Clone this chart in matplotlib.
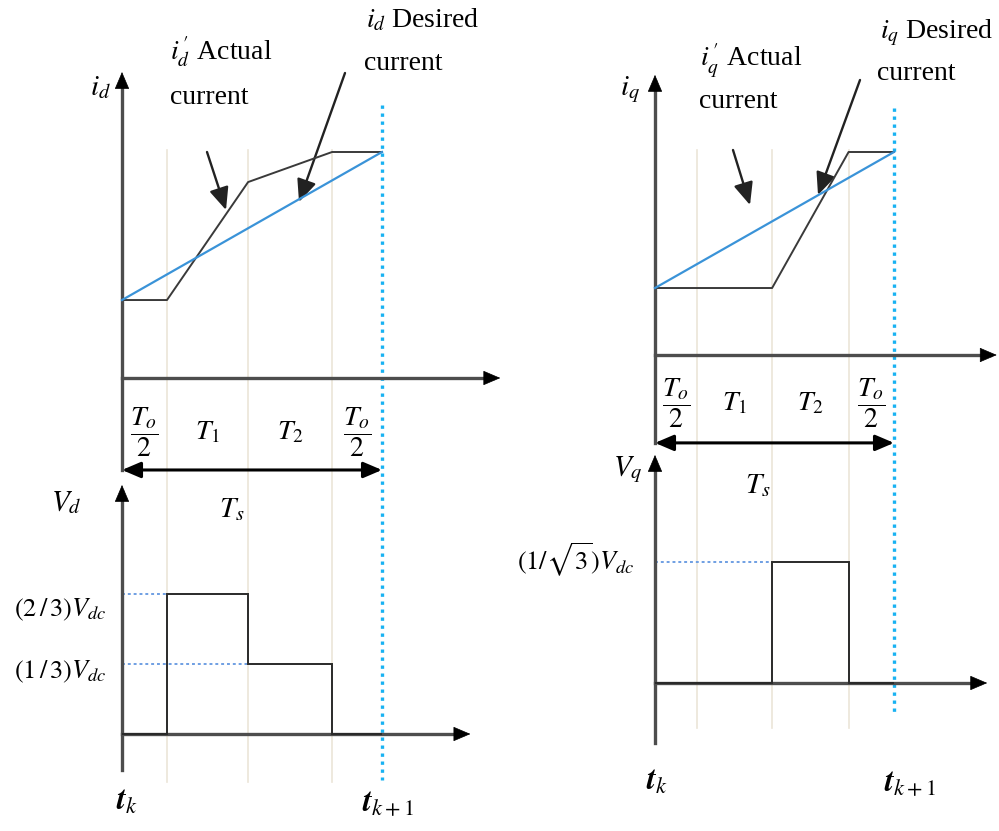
import numpy as np
import matplotlib
matplotlib.use("Agg")
import matplotlib.pyplot as plt
from matplotlib import transforms

plt.rcParams["font.family"] = ["Liberation Serif", "DejaVu Serif"]
plt.rcParams["mathtext.fontset"] = "stix"

W, H = 999, 831

# switching period split into T0/2, T1, T2, T0/2 (fraction of Ts)
d_edges = [0.0, 0.173, 0.485, 0.808, 1.0]
q_edges = [0.0, 0.176, 0.49, 0.81, 1.0]

# d-axis: actual and desired current (normalised to end value)
id_actual = [0.345, 0.345, 0.867, 1.0, 1.0]
id_desired = [0.345, 1.0]
# d-axis voltage levels per interval (in Vdc)
vd_levels = [0.0, 2 / 3, 1 / 3, 0.0]

# q-axis
iq_actual = [0.33, 0.33, 0.33, 1.0, 1.0]
iq_desired = [0.33, 1.0]
vq_levels = [0.0, 0.0, 1 / np.sqrt(3), 0.0]

seg_labels = [r"$\dfrac{T_o}{2}$", r"$T_1$", r"$T_2$", r"$\dfrac{T_o}{2}$"]

AXIS = "#4d4d4d"
GRID = "#ebe5d8"
BLUE = "#3a93d8"
CYAN = "#19b2f2"
REF = "#6f9fe3"

fig = plt.figure(figsize=(W / 100, H / 100), dpi=100)

# pixel overlay for free text and pointers
ov = fig.add_axes([0, 0, 1, 1])
ov.set_xlim(0, W)
ov.set_ylim(H, 0)
ov.axis("off")


def panel(x0, x1, y0, y1):
    """axes where t=0..1 spans x0..x1 px and value 0..1 spans y0..y1 px"""
    ax = fig.add_axes([x0 / W, (H - y0) / H, (x1 - x0) / W, (y0 - y1) / H])
    ax.set_xlim(0, 1)
    ax.set_ylim(0, 1)
    ax.axis("off")
    return ax


HEAD = "-|>,head_length=0.75,head_width=0.32"


def arrow_axes(ax, xend, ytop, ybot):
    kw = dict(arrowstyle=HEAD, color="black", lw=0.5, mutation_scale=15,
              shrinkA=0, shrinkB=0)
    ax.plot([0, 0], [ybot, ytop - 0.03], color=AXIS, lw=2.4, clip_on=False, zorder=3)
    ax.plot([0, xend - 0.03], [0, 0], color=AXIS, lw=2.4, clip_on=False, zorder=3)
    ax.annotate("", xy=(0, ytop), xytext=(0, ytop - 0.05), arrowprops=kw,
                annotation_clip=False)
    ax.annotate("", xy=(xend, 0), xytext=(xend - 0.05, 0), arrowprops=kw,
                annotation_clip=False)


def guides(ax, edges, gy0, gy1, cy0, cy1):
    tr = transforms.blended_transform_factory(ax.transData, ov.transData)
    for e in edges[1:-1]:
        ax.plot([e, e], [gy0, gy1], transform=tr, color=GRID, lw=1.2,
                clip_on=False, zorder=1)
    ax.plot([edges[-1]] * 2, [cy0, cy1], transform=tr, color=CYAN, lw=2.4,
            ls=(0, (1, 1.4)), clip_on=False, zorder=2)


def current_panel(ax, edges, actual, desired, ts_y, xend, ytop):
    arrow_axes(ax, xend, ytop, ts_y)
    ax.plot(edges, actual, color="#3a3a3a", lw=1.4, clip_on=False, zorder=4)
    ax.plot([edges[0], edges[-1]], desired, color=BLUE, lw=1.6,
            clip_on=False, zorder=4)
    ax.annotate("", xy=(edges[0], ts_y), xytext=(edges[-1], ts_y),
                arrowprops=dict(arrowstyle="<|-|>,head_length=0.75,head_width=0.32",
                                color="black", lw=2.2, mutation_scale=15,
                                shrinkA=0, shrinkB=0),
                annotation_clip=False, zorder=5)
    mids = [(a + b) / 2 for a, b in zip(edges[:-1], edges[1:])]
    for m, lab in zip(mids, seg_labels):
        ax.text(m, -0.24, lab, fontsize=20, ha="center", va="center")


def voltage_panel(ax, edges, levels, xend, ytop, ybot):
    arrow_axes(ax, xend, ytop, ybot)
    ax.stairs(levels, edges, baseline=0, color="#2a2a2a", lw=1.4,
              clip_on=False, zorder=4)
    for i, v in enumerate(levels):
        if v > 0:
            ax.plot([0, edges[i]], [v, v], color=REF, lw=1.4,
                    ls=(0, (1.5, 1.5)), clip_on=False, zorder=2)


# left column (d axis)
d_cur = panel(122, 382, 378, 152)
d_vol = panel(122, 382, 734, 524)
guides(d_cur, d_edges, 150, 782, 105, 780)
current_panel(d_cur, d_edges, id_actual, id_desired, -0.407, 1.455, 1.354)
voltage_panel(d_vol, d_edges, vd_levels, 1.34, 1.186, -0.171)

# right column (q axis)
q_cur = panel(655, 894, 355, 152)
q_vol = panel(655, 894, 683, 473)
guides(q_cur, q_edges, 150, 728, 108, 716)
current_panel(q_cur, q_edges, iq_actual, iq_desired, -0.433, 1.43, 1.38)
voltage_panel(q_vol, q_edges, vq_levels, 1.39, 1.086, -0.286)

# axis names and levels
fs = 21
ov.text(100, 88, r"$i_d$", fontsize=fs, ha="center", va="center")
ov.text(630, 90, r"$i_q$", fontsize=fs, ha="center", va="center")
ov.text(66, 503, r"$V_d$", fontsize=fs, ha="center", va="center")
ov.text(628, 470, r"$V_q$", fontsize=fs, ha="center", va="center")
ov.text(232, 510, r"$T_s$", fontsize=fs, ha="center", va="center")
ov.text(758, 486, r"$T_s$", fontsize=fs, ha="center", va="center")
ov.text(60, 610, r"$(2\,/\,3)V_{dc}$", fontsize=19, ha="center", va="center")
ov.text(60, 672, r"$(1\,/\,3)V_{dc}$", fontsize=19, ha="center", va="center")
ov.text(576, 560, r"$(1/\sqrt{3})V_{dc}$", fontsize=19, ha="center", va="center")
ov.text(127, 802, r"$\mathbfit{t}_{k}$", fontsize=23, ha="center", va="center")
ov.text(388, 804, r"$\mathbfit{t}_{k+1}$", fontsize=23, ha="center", va="center")
ov.text(657, 782, r"$\mathbfit{t}_{k}$", fontsize=23, ha="center", va="center")
ov.text(910, 784, r"$\mathbfit{t}_{k+1}$", fontsize=23, ha="center", va="center")

# descriptive labels
ov.text(170, 52, r"$i_d^{\,\prime}$ Actual", fontsize=20, ha="left", va="center")
ov.text(170, 97, "current", fontsize=20, ha="left", va="center")
ov.text(366, 20, r"$i_d$ Desired", fontsize=20, ha="left", va="center")
ov.text(364, 64, "current", fontsize=20, ha="left", va="center")
ov.text(700, 60, r"$i_q^{\,\prime}$ Actual", fontsize=20, ha="left", va="center")
ov.text(699, 101, "current", fontsize=20, ha="left", va="center")
ov.text(880, 33, r"$i_q$ Desired", fontsize=20, ha="left", va="center")
ov.text(877, 74, "current", fontsize=20, ha="left", va="center")

pointer = dict(arrowstyle="-|>,head_length=0.8,head_width=0.35", color="#222222",
               lw=1.7, mutation_scale=17, shrinkA=0, shrinkB=0)
for tail, tip in [((207, 152), (226, 210)), ((345, 73), (299, 202)),
                  ((733, 150), (750, 205)), ((860, 80), (818, 195))]:
    ov.annotate("", xy=tip, xytext=tail, arrowprops=pointer)

fig.savefig("out.png", dpi=100, facecolor="white")
